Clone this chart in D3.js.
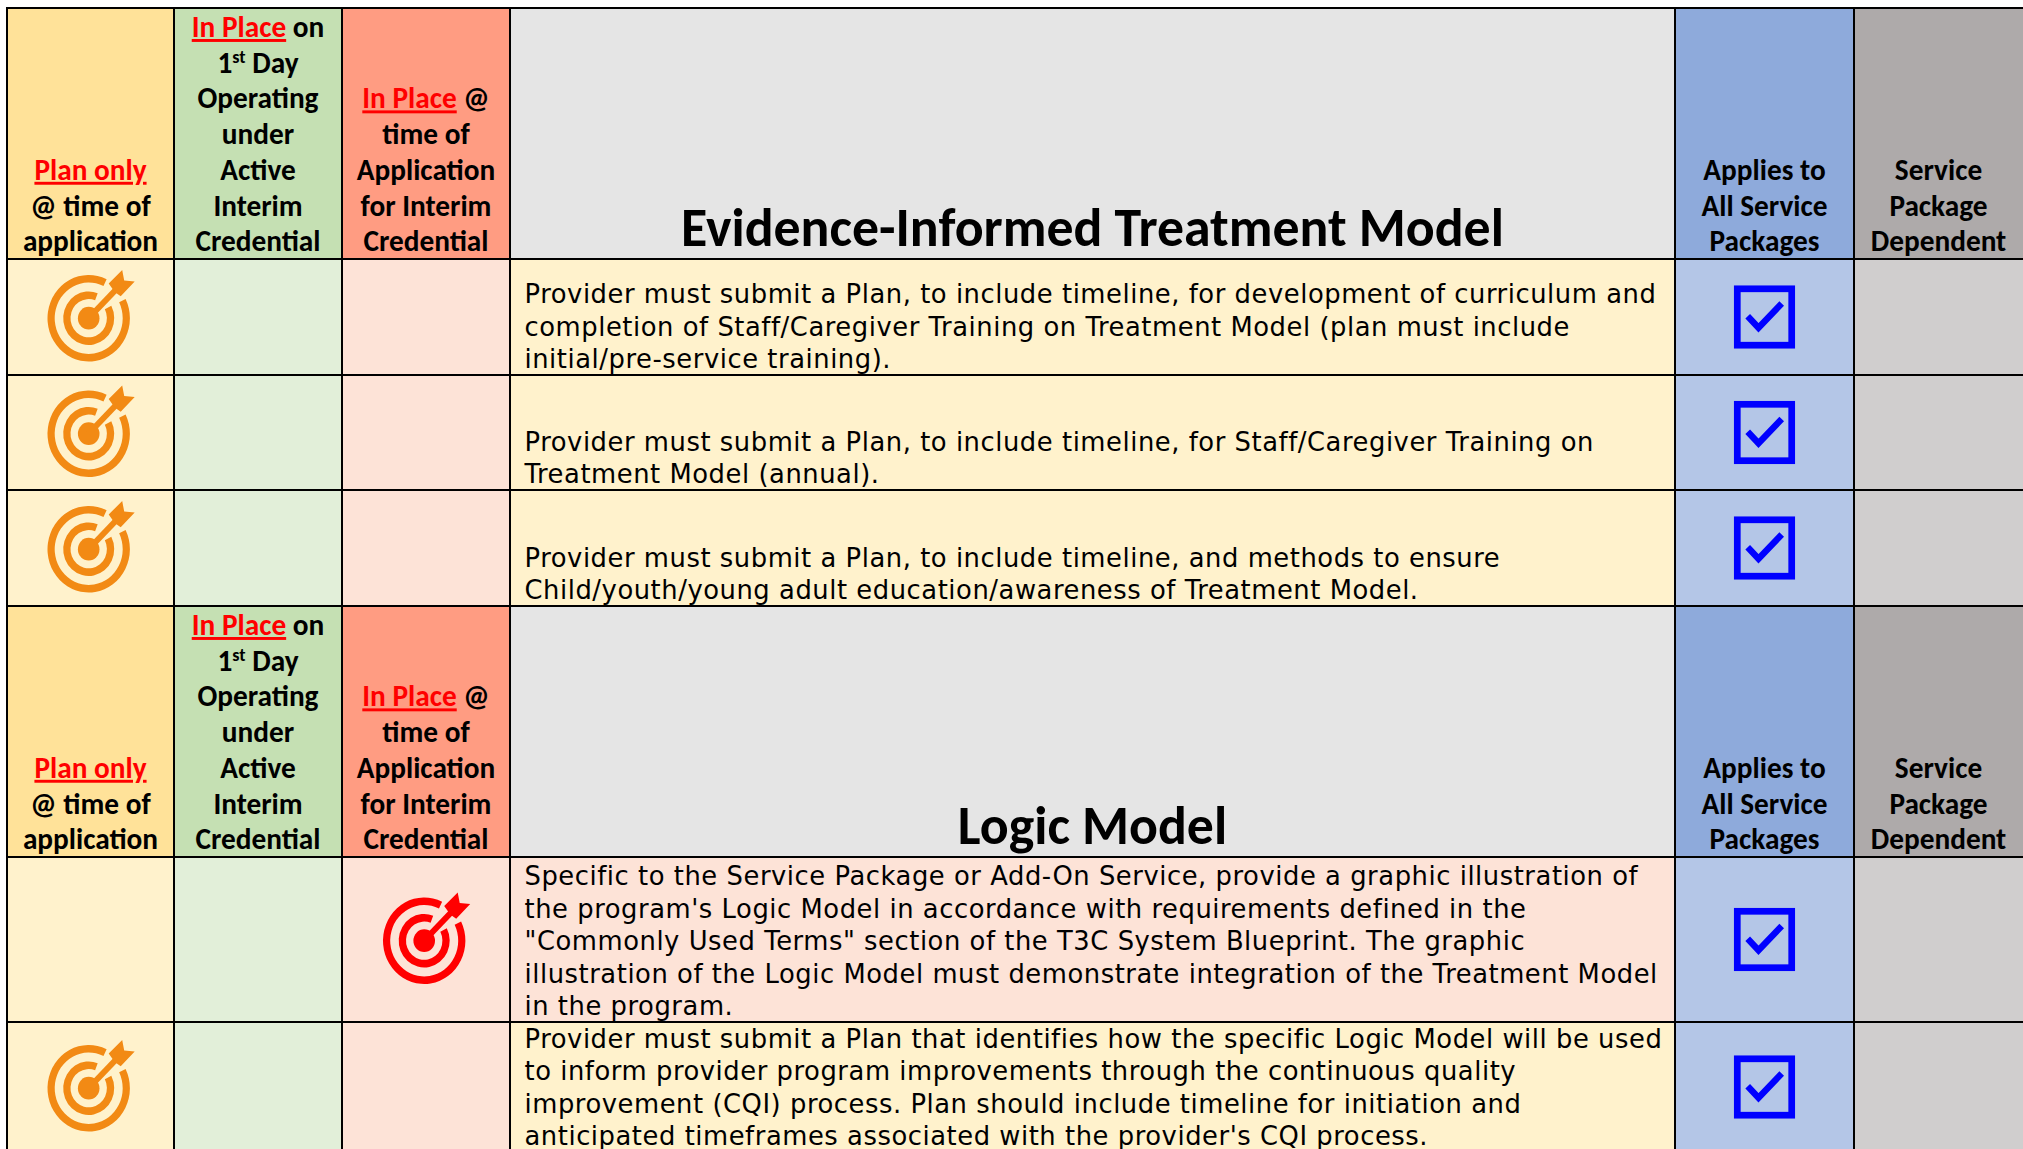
<!DOCTYPE html>
<html><head><meta charset="utf-8">
<script src="https://cdn.jsdelivr.net/npm/d3@7"></script>
<style>html,body{margin:0;padding:0;background:#fff;overflow:hidden}svg{display:block}</style>
</head><body><svg id="c" width="2023" height="1149"></svg>
<script>
const columns = ["plan","firstDay","inPlace","text","all","pkg"];
const columnEdges = [7,174,342,510,1675,1854,2023];
const rowEdges = [8,259,375,490,606,857,1022,1152];
const rowKinds = ["head","body","body","body","head","body","body"];
const headerFill = {plan:"#FFE299",firstDay:"#C5E0B3",inPlace:"#FF9C82",text:"#E5E5E5",all:"#8EAADB",pkg:"#AEAAAA"};
const bodyFill = {plan:"#FFF2CC",firstDay:"#E2EFD9",inPlace:"#FDE3D7",all:"#B4C6E7",pkg:"#D0CECE"};
const titles = ["Evidence-Informed Treatment Model","Logic Model"];
const headerLines = {
  plan:[[["Plan only",1]],[["@ time of",0]],[["application",0]]],
  firstDay:[[["In Place",1],[" on",0]],[["1",0],["st",2],[" Day",0]],[["Operating",0]],[["under",0]],[["Active",0]],[["Interim",0]],[["Credential",0]]],
  inPlace:[[["In Place",1],[" @",0]],[["time of",0]],[["Application",0]],[["for Interim",0]],[["Credential",0]]],
  all:[[["Applies to",0]],[["All Service",0]],[["Packages",0]]],
  pkg:[[["Service",0]],[["Package",0]],[["Dependent",0]]]
};
const bodyText = [
 ["Provider must submit a Plan, to include timeline, for development of curriculum and","completion of Staff/Caregiver Training on Treatment Model (plan must include","initial/pre-service training)."],
 ["Provider must submit a Plan, to include timeline, for Staff/Caregiver Training on","Treatment Model (annual)."],
 ["Provider must submit a Plan, to include timeline, and methods to ensure","Child/youth/young adult education/awareness of Treatment Model."],
 ["Specific to the Service Package or Add-On Service, provide a graphic illustration of","the program's Logic Model in accordance with requirements defined in the","\"Commonly Used Terms\" section of the T3C System Blueprint. The graphic","illustration of the Logic Model must demonstrate integration of the Treatment Model","in the program."],
 ["Provider must submit a Plan that identifies how the specific Logic Model will be used","to inform provider program improvements through the continuous quality","improvement (CQI) process. Plan should include timeline for initiation and","anticipated timeframes associated with the provider's CQI process."]
];
const targetColumn = ["plan","plan","plan","inPlace","plan"];
const targetColor = {plan:"#F28A14",inPlace:"#FF0000"};
const textFill = {plan:"#FFF2CC",inPlace:"#FDE3D7"};

const svg = d3.select("#c");
const xL = d3.scaleOrdinal(columns, columnEdges.slice(0,-1));
const xR = d3.scaleOrdinal(columns, columnEdges.slice(1));
const yT = d3.scaleOrdinal(d3.range(rowKinds.length), rowEdges.slice(0,-1));
const yB = d3.scaleOrdinal(d3.range(rowKinds.length), rowEdges.slice(1));
const HF = "Carlito, Lato, sans-serif", BF = "Verdana, 'DejaVu Sans', sans-serif";
const hSize = 29.3, hLead = 35.7, bSize = 25.8, bLead = 32.4;

function target(g, cx, cy, color){
  const a = g.append("g").attr("transform",`translate(${cx},${cy}) scale(1,1.05)`);
  const ring = d3.arc(), T = Math.PI*2;
  a.append("path").attr("fill",color).attr("d",ring({innerRadius:34,outerRadius:41.2,startAngle:1.11,endAngle:0.45+T}));
  a.append("path").attr("fill",color).attr("d",ring({innerRadius:18.2,outerRadius:25.5,startAngle:1.09,endAngle:0.36+T}));
  a.append("circle").attr("r",10.8).attr("fill",color);
  a.append("path").attr("d","M0 0L27 -27").attr("stroke",color).attr("stroke-width",5.8);
  a.append("path").attr("fill",color).attr("d","M20 -33L33.5 -46L35.5 -36L46 -35L32 -21L26 -25Z");
}
function check(g, cx, cy){
  const a = g.append("g").attr("transform",`translate(${cx},${cy})`);
  a.append("rect").attr("x",-27.2).attr("y",-28.2).attr("width",54.4).attr("height",56.4).attr("fill","none").attr("stroke","#0000FF").attr("stroke-width",6.7);
  a.append("path").attr("d","M-16.8 -0.8L-6 10.8L17.2 -13.5").attr("fill","none").attr("stroke","#0000FF").attr("stroke-width",6.4);
}

rowKinds.forEach((kind,r)=>{
  const bodyIdx = rowKinds.slice(0,r).filter(k=>k==="body").length;
  const headIdx = rowKinds.slice(0,r).filter(k=>k==="head").length;
  columns.forEach(c=>{
    const fill = kind==="head" ? headerFill[c] : (c==="text" ? textFill[targetColumn[bodyIdx]] : bodyFill[c]);
    svg.append("rect").attr("x",xL(c)).attr("y",yT(r)).attr("width",xR(c)-xL(c)).attr("height",yB(r)-yT(r)).attr("fill",fill);
  });
  if(kind==="head"){
    columns.filter(c=>c!=="text").forEach(c=>{
      const lines = headerLines[c], cx=(xL(c)+xR(c))/2, base=yB(r)-7.8;
      lines.forEach((ln,i)=>{
        const t = svg.append("text").attr("x",cx).attr("y",base-(lines.length-1-i)*hLead).attr("text-anchor","middle")
          .attr("font-family",HF).attr("font-weight",700).attr("font-size",hSize).attr("fill","#000").attr("xml:space","preserve");
        ln.forEach(([s,st])=>{
          const sp=t.append("tspan").text(s);
          if(st===1) sp.attr("fill","#FF0000").attr("text-decoration","underline");
          if(st===2) sp.attr("font-size",hSize*0.62).attr("dy",-10);
          else if(ln.some(q=>q[1]===2) && s.startsWith(" ")) sp.attr("dy",10);
        });
      });
    });
    svg.append("text").attr("x",(xL("text")+xR("text"))/2).attr("y",yB(r)-13.5).attr("text-anchor","middle")
      .attr("font-family",HF).attr("font-weight",700).attr("font-size",53.8).attr("fill","#000").text(titles[headIdx]);
  } else {
    const lines = bodyText[bodyIdx];
    const base = yB(r)-7;
    lines.forEach((s,i)=>{
      svg.append("text").attr("x",xL("text")+14.5).attr("y",base-(lines.length-1-i)*bLead)
        .attr("font-family",BF).attr("font-size",bSize).attr("letter-spacing",0.55).attr("fill","#000").text(s);
    });
    const mid=(yT(r)+yB(r))/2;
    const tc=targetColumn[bodyIdx];
    target(svg,(xL(tc)+xR(tc))/2-1.8,mid+1.2,targetColor[tc]);
    check(svg,(xL("all")+xR("all"))/2,mid);
  }
});
const grid = svg.append("g").attr("stroke","#000").attr("stroke-width",2);
grid.selectAll("line.v").data(columnEdges.slice(0,-1)).join("line").attr("x1",d=>d).attr("x2",d=>d).attr("y1",rowEdges[0]-1).attr("y2",1149);
grid.selectAll("line.h").data(rowEdges.slice(0,-1)).join("line").attr("y1",d=>d).attr("y2",d=>d).attr("x1",columnEdges[0]-1).attr("x2",2023);
</script></body></html>
